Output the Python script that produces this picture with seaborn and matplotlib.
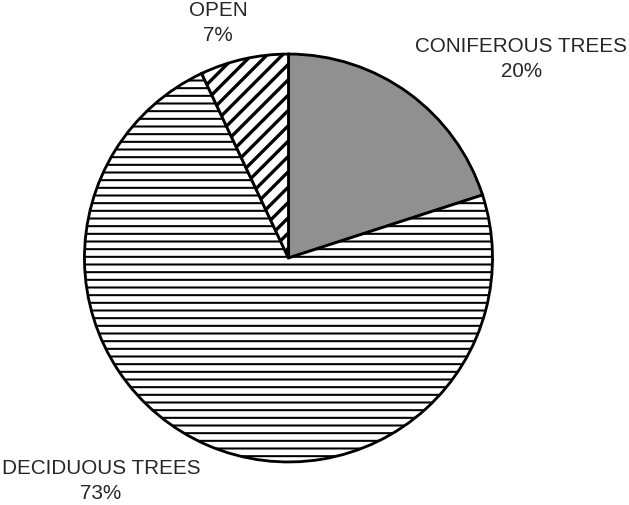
import seaborn as sns
import matplotlib
matplotlib.use("Agg")
from matplotlib import pyplot as plt

labels = ['CONIFEROUS TREES', 'DECIDUOUS TREES', 'OPEN']
shares = [20, 73, 7]
hatches = ['', '--', '//']
faces = ['#909090', 'white', 'white']

sns.set_style('white')
plt.rcParams['font.family'] = ['Liberation Sans', 'DejaVu Sans']
plt.rcParams['hatch.color'] = 'black'
plt.rcParams['hatch.linewidth'] = 1.6

fig = plt.figure(figsize=(629 / 92, 505 / 92), dpi=92)
ax = fig.add_axes([0, 0, 1, 1])

wedges, _ = ax.pie(shares, startangle=90, counterclock=False, colors=faces,
                   wedgeprops=dict(edgecolor='black', linewidth=2.2))
for w, h in zip(wedges, hatches):
    w.set_hatch(h)
# thicker diagonal stripes for OPEN
if hasattr(wedges[2], 'set_hatch_linewidth'):
    wedges[2].set_hatch_linewidth(2.6)

# label positions in units of pie radius
label_pos = [(1.142, 0.975), (-0.919, -1.091), (-0.346, 1.152)]
for lab, s, (x, y) in zip(labels, shares, label_pos):
    ax.text(x, y, f'{lab}\n{s}%', ha='center', va='center', fontsize=16.2,
            linespacing=1.4)

ax.set_aspect('auto')
ax.set_xlim(-1.414, 1.669)
ax.set_ylim(-1.211, 1.265)
ax.axis('off')

fig.savefig('out.png', dpi=92)
